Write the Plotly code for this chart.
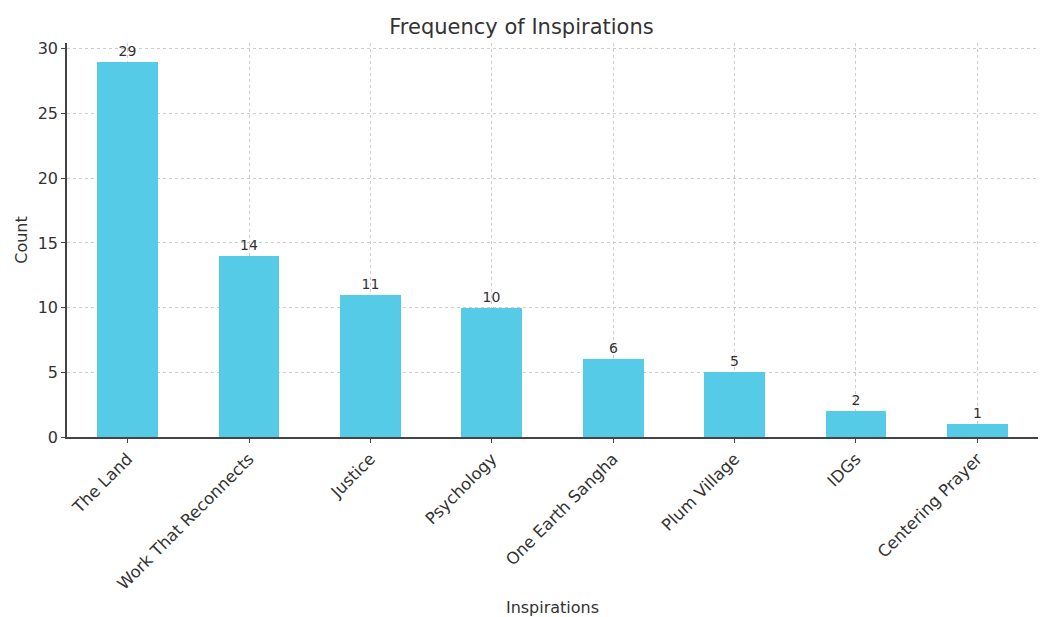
import plotly.graph_objects as go

categories = ["The Land", "Work That Reconnects", "Justice", "Psychology",
              "One Earth Sangha", "Plum Village", "IDGs", "Centering Prayer"]
counts = [29, 14, 11, 10, 6, 5, 2, 1]
y_ticks = [0, 5, 10, 15, 20, 25, 30]

font = "DejaVu Sans"
fig = go.Figure()
fig.add_trace(go.Bar(
    x=list(range(len(categories))), y=counts, width=0.5,
    marker=dict(color="#56CBE8", line=dict(width=0)),
    text=[str(c) for c in counts], textposition="outside",
    textfont=dict(family=font, size=14, color="#333333"),
    cliponaxis=False,
))
fig.update_layout(
    width=1043, height=617,
    margin=dict(l=67, r=5, t=43, b=180),
    paper_bgcolor="white", plot_bgcolor="white",
    title=dict(text="Frequency of Inspirations", x=0.5, xanchor="center",
               y=1 - 27/617, yanchor="middle",
               font=dict(family=font, size=21, color="#333333")),
    showlegend=False,
    bargap=0,
)
fig.update_xaxes(
    range=[-0.5, 7.5], tickmode="array",
    tickvals=list(range(len(categories))), ticktext=categories,
    tickangle=-45, tickfont=dict(family=font, size=16.5, color="#333333"),
    ticks="outside", ticklen=4, tickcolor="#444444",
    showline=True, linecolor="#444444", linewidth=1.5,
    showgrid=True, gridcolor="#cccccc", griddash="dot", gridwidth=1,
    layer="above traces", automargin=False,
    title=dict(text="Inspirations", font=dict(family=font, size=16, color="#333333"),
               standoff=12),
    zeroline=False,
)
fig.update_yaxes(
    range=[0, 30.45], tickmode="array", tickvals=y_ticks,
    tickfont=dict(family=font, size=16, color="#333333"),
    ticks="outside", ticklen=4, tickcolor="#444444",
    showline=True, linecolor="#444444", linewidth=1.5,
    showgrid=True, gridcolor="#cccccc", griddash="dot", gridwidth=1,
    layer="above traces", automargin=False,
    title=dict(text="Count", font=dict(family=font, size=16, color="#333333"),
               standoff=6),
    zeroline=False,
)
fig.write_html("out.html")
